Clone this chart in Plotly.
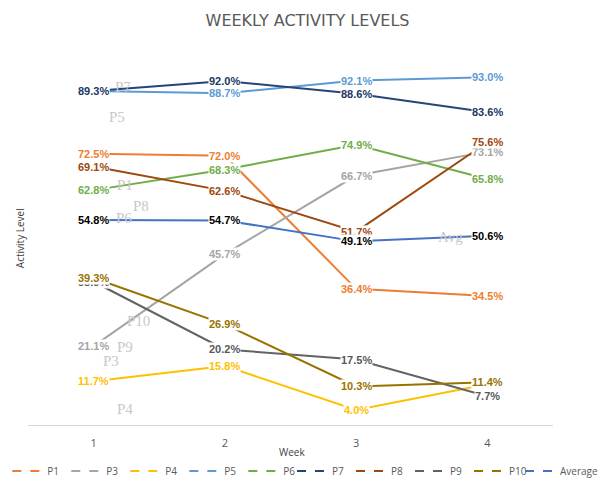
import plotly.graph_objects as go

weeks = [1, 2, 3, 4]
week_labels = ["1", "2", "3", "4"]

series_names = ["P1", "P3", "P4", "P5", "P6", "P7", "P8", "P9", "P10", "Average"]
p1 = [72.5, 72.0, 36.4, 34.5]
p3 = [21.1, 45.7, 66.7, 73.1]
p4 = [11.7, 15.8, 4.0, 10.9]
p5 = [89.3, 88.7, 92.1, 93.0]
p6 = [62.8, 68.3, 74.9, 65.8]
p7 = [89.3, 92.0, 88.6, 83.6]
p8 = [69.1, 62.6, 51.7, 75.6]
p9 = [38.3, 20.2, 17.5, 7.7]
p10 = [39.3, 26.9, 10.3, 11.4]
average = [54.8, 54.7, 49.1, 50.6]
values = [p1, p3, p4, p5, p6, p7, p8, p9, p10, average]

line_colors = ["#ED7D31", "#A5A5A5", "#FFC000", "#5B9BD5", "#70AD47",
               "#264478", "#9E480E", "#636363", "#997300", "#4472C4"]
label_colors = ["#ED7D31", "#A5A5A5", "#FFC000", "#5B9BD5", "#70AD47",
                "#203864", "#9E480E", "#595959", "#997300", "#000000"]

# faint series-name tags (text, data coords)
ghost_text = ["P7", "P5", "P1", "P8", "P6", "P10", "P9", "P3", "P4", "Avg"]
ghost_x = [1.22, 1.18, 1.24, 1.36, 1.23, 1.34, 1.24, 1.13, 1.24, 3.72]
ghost_y = [90.4, 82.4, 64.2, 58.6, 55.3, 27.8, 20.9, 17.1, 4.3, 50.3]

fig = go.Figure()

for name, vals, col in zip(series_names, values, line_colors):
    fig.add_trace(go.Scatter(x=weeks, y=vals, mode="lines", name=name,
                             line=dict(color=col, width=2), showlegend=False,
                             hoverinfo="skip"))
for i, (name, col) in enumerate(zip(series_names, line_colors)):
    lg = "legend" if i < 5 else ("legend2" if i < 9 else "legend3")
    fig.add_trace(go.Scatter(x=[None], y=[None], mode="lines", name=name,
                             line=dict(color=col, width=2, dash="dash"),
                             legend=lg, showlegend=True, hoverinfo="skip"))

annotations = []
for t, gx, gy in zip(ghost_text, ghost_x, ghost_y):
    annotations.append(dict(x=gx, y=gy, xref="x", yref="y", text=t, showarrow=False,
                            font=dict(family="Liberation Serif", size=15, color="#C8C8C8")))
for vals, col in zip(values, label_colors):
    for x, v in zip(weeks, vals):
        annotations.append(dict(x=x, y=v, xref="x", yref="y", text=f"{v:.1f}%",
                                showarrow=False, bgcolor="white", borderpad=0,
                                font=dict(family="Liberation Sans", size=11, color=col,
                                          weight="bold")))
annotations.append(dict(xref="paper", yref="paper", x=-0.015, y=0.5, text="Activity Level",
                        textangle=-90, showarrow=False, xanchor="center", yanchor="middle",
                        font=dict(family="Open Sans", size=10, color="#404040")))
annotations.append(dict(xref="paper", yref="paper", x=0.503, y=-0.072, text="Week",
                        showarrow=False, xanchor="center", yanchor="middle",
                        font=dict(family="Open Sans", size=10, color="#404040")))

legend_style = dict(orientation="h", xref="container", yref="container",
                    xanchor="left", y=0.019, yanchor="middle",
                    bgcolor="rgba(0,0,0,0)",
                    font=dict(family="Open Sans", size=10, color="#595959"),
                    itemwidth=30, entrywidth=14, tracegroupgap=0)

fig.update_layout(
    width=609, height=480,
    margin=dict(l=28, r=56, t=51, b=55, autoexpand=False),
    paper_bgcolor="white", plot_bgcolor="white",
    hovermode=False,
    title=dict(text="WEEKLY ACTIVITY LEVELS", x=0.505, xanchor="center", y=0.958,
               yanchor="middle",
               font=dict(family="DejaVu Sans", size=16, color="#595959")),
    xaxis=dict(range=[0.5, 4.5], tickmode="array", tickvals=weeks, ticktext=week_labels,
               showgrid=False, zeroline=False, showline=True, linecolor="#D9D9D9",
               linewidth=1, ticks="", ticklabelstandoff=8, automargin=False,
               tickfont=dict(family="Open Sans", size=11, color="#595959")),
    yaxis=dict(range=[0, 100], showgrid=False, zeroline=False, showticklabels=False,
               showline=False, ticks="", automargin=False),
    legend=dict(legend_style, x=0.012),
    legend2=dict(legend_style, x=(7 + 5 * 57) / 609),
    legend3=dict(legend_style, x=(7 + 9 * 57) / 609, entrywidth=60),
    annotations=annotations,
    showlegend=True,
)

fig.write_html("out.html", config={"displayModeBar": False, "staticPlot": True},
               post_script="document.body.style.margin='0';")
